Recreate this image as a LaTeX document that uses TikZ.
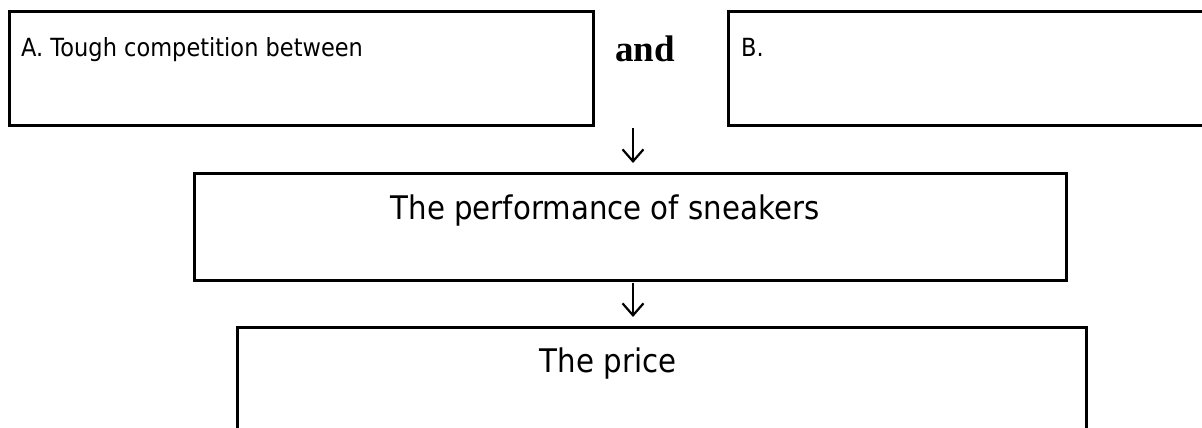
\documentclass[tikz,border=0pt]{standalone}
\usepackage{fontspec}
\setmainfont{DejaVu Sans}[FakeStretch=0.9]
\newfontfamily\andfont{Liberation Serif}
\usetikzlibrary{arrows.meta}
\tikzset{
  box/.style={draw=black, line width=2.8pt, inner sep=0pt, anchor=north west},
  conn/.style={line width=2.2pt, shorten >=9pt, -{Straight Barb[length=12pt,width=21pt,line width=2.2pt]}},
  smalltxt/.style={font=\fontsize{25}{28}\selectfont, inner sep=0pt},
  bigtxt/.style={font=\fontsize{32.5}{36}\selectfont, inner sep=0pt},
}
\begin{document}
\begin{tikzpicture}[x=1pt,y=-1pt]
\useasboundingbox (0,0) rectangle (1202,428);
% boxes
\node[box, minimum width=584pt, minimum height=114pt] (Abox) at (8,10) {};
\node[box, minimum width=488pt, minimum height=114pt] (Bbox) at (727,10) {};
\node[box, minimum width=872pt, minimum height=107pt] (C) at (193,172) {};
\node[box, minimum width=849pt, minimum height=120pt] (D) at (236,326) {};
% texts
\node[smalltxt, anchor=base west] (A) at (21,57) {A. Tough competition between};
\node[font=\andfont\bfseries\fontsize{37}{40}\selectfont, inner sep=0pt, anchor=base west] (and) at (615,62) {and};
\node[smalltxt, anchor=base west] (B) at (741,57) {B.};
\node[bigtxt, anchor=base] (Ct) at (605,219) {The performance of sneakers};
\node[bigtxt, anchor=base] (Dt) at (608,372) {The price};
% arrows
\coordinate (a1) at (633,128);
\coordinate (a2) at (633,283);
\draw[conn] (a1) -- (a1 |- C.north);
\draw[conn] (a2) -- (a2 |- D.north);
\end{tikzpicture}
\end{document}
